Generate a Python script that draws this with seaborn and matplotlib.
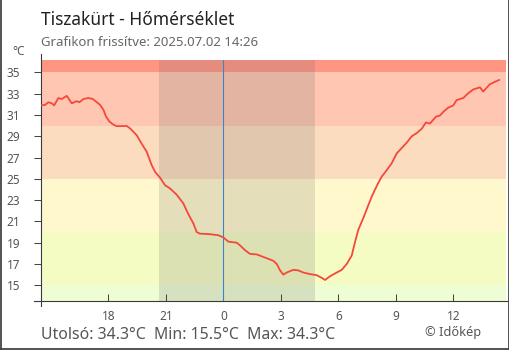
import matplotlib
matplotlib.use("Agg")
import matplotlib.pyplot as plt
import seaborn as sns
import pandas as pd
from matplotlib.lines import Line2D

# Hours relative to local midnight (negative = previous evening) and temperature in °C
hours = [-9.53, -9.30, -9.13, -8.95, -8.83, -8.61, -8.43, -8.17, -7.91, -7.65,
         -7.51, -7.30, -7.04, -6.81, -6.60, -6.43, -6.26, -6.12, -5.95, -5.74,
         -5.56, -5.04, -4.87, -4.52, -4.26, -4.00, -3.74, -3.56, -3.30, -3.04,
         -2.78, -2.43, -2.09, -1.83, -1.56, -1.39, -1.22, -0.69, -0.26, 0.00,
         0.26, 0.70, 0.87, 1.13, 1.39, 1.74, 2.18, 2.61, 2.79, 2.96,
         3.13, 3.31, 3.65, 3.91, 4.17, 4.52, 4.87, 5.13, 5.31, 5.57,
         5.92, 6.18, 6.44, 6.70, 6.87, 7.04, 7.30, 7.56, 7.76, 8.05,
         8.26, 8.52, 8.78, 9.05, 9.31, 9.57, 9.83, 10.09, 10.35, 10.57,
         10.78, 11.10, 11.30, 11.48, 11.74, 12.00, 12.17, 12.52, 12.78, 13.04,
         13.39, 13.56, 13.91, 14.40]
temps = [31.9, 31.95, 32.2, 32.1, 31.9, 32.6, 32.5, 32.8, 32.1, 32.3,
         32.2, 32.5, 32.6, 32.5, 32.2, 31.95, 31.5, 30.85, 30.4, 30.1,
         29.95, 29.97, 29.75, 29.1, 28.3, 27.55, 26.3, 25.65, 25.1, 24.4,
         24.1, 23.5, 22.7, 21.7, 20.8, 20.0, 19.85, 19.8, 19.7, 19.5,
         19.1, 19.0, 18.75, 18.3, 17.95, 17.9, 17.6, 17.3, 17.0, 16.4,
         16.0, 16.2, 16.45, 16.4, 16.2, 16.05, 15.95, 15.7, 15.5, 15.85,
         16.2, 16.45, 17.0, 17.8, 19.05, 20.2, 21.3, 22.5, 23.4, 24.5,
         25.2, 25.8, 26.45, 27.4, 27.9, 28.4, 29.0, 29.3, 29.7, 30.3,
         30.2, 30.85, 30.95, 31.3, 31.7, 31.9, 32.4, 32.6, 33.05, 33.4,
         33.6, 33.2, 33.9, 34.3]

tick_hours = [-6, -3, 0, 3, 6, 9, 12]
tick_labels = ["18", "21", "0", "3", "6", "9", "12"]
temp_ticks = [15, 17, 19, 21, 23, 25, 27, 29, 31, 33, 35]

x_range = (-9.53, 14.75)
y_range = (13.55, 36.17)

# Temperature zones (lower edge, upper edge, colour)
band_edges = [13.55, 15, 20, 25, 30, 35, 36.17]
band_colors = ["#eefdd3", "#f4fcc4", "#fff8cd", "#fcdcbf", "#ffc6b1", "#ff9583"]

# Sunset 20:38, sunrise 04:47
night_start, night_end = -3.37, 4.79

station = "Tiszakürt"
updated = "2025.07.02 14:26"
last_t, min_t, max_t = 34.3, 15.5, 34.3

sns.set_style("white")
plt.rcParams["font.family"] = ["Noto Sans", "DejaVu Sans"]

df = pd.DataFrame({"hour": hours, "temp": temps})

fig = plt.figure(figsize=(5.1, 3.5), dpi=100)
ax = fig.add_axes([40.7 / 510, 1 - 300.7 / 350, (506 - 40.7) / 510, (300.7 - 60) / 350])

for lo, hi, col in zip(band_edges[:-1], band_edges[1:], band_colors):
    ax.axhspan(lo, hi, color=col, lw=0, zorder=0)

ax.axvspan(night_start, night_end, color="#606060", alpha=0.17, lw=0, zorder=1)
ax.axvline(0, color="#3d85c6", lw=0.8, zorder=2)

sns.lineplot(data=df, x="hour", y="temp", color="#f5483b", linewidth=1.3, ax=ax, zorder=3)

ax.set_xlim(*x_range)
ax.set_ylim(*y_range)
ax.set_xlabel("")
ax.set_ylabel("")
ax.set_yticks(temp_ticks)
ax.set_xticks(tick_hours, tick_labels)

ax.tick_params(axis="y", direction="out", length=4.7, width=0.75, color="#444444",
               pad=10, labelsize=8.5, labelcolor="#555555", left=True)
ax.tick_params(axis="x", direction="in", length=4.8, width=0.75, color="#444444",
               pad=6.5, labelsize=8.5, labelcolor="#555555", bottom=True)

for side in ("top", "right"):
    ax.spines[side].set_visible(False)
for side in ("left", "bottom"):
    ax.spines[side].set_visible(True)
    ax.spines[side].set_color("#3a3a3a")
    ax.spines[side].set_linewidth(0.8)
ax.spines["left"].set_bounds(y_range[0] - 0.5, y_range[1] + 0.6)
ax.spines["bottom"].set_bounds(x_range[0] - 0.33, x_range[1] + 0.14)

fig.text(40.7 / 510, 1 - 25 / 350, f"{station} - Hőmérséklet", fontsize=12.5,
         color="#222222", va="baseline", ha="left")
fig.text(40.7 / 510, 1 - 46 / 350, f"Grafikon frissítve: {updated}", fontsize=9.5,
         color="#666666", va="baseline", ha="left")
fig.text(12.7 / 510, 1 - 55 / 350, "°C", fontsize=8.5, color="#555555",
         va="baseline", ha="left")
fig.text(40.7 / 510, 1 - 339.3 / 350,
         f"Utolsó: {last_t:.1f}°C  Min: {min_t:.1f}°C  Max: {max_t:.1f}°C",
         fontsize=11.4, color="#555555", va="baseline", ha="left")
fig.text(425 / 510, 1 - 336 / 350, "© Időkép", fontsize=9.2, color="#555555",
         va="baseline", ha="left")

# Outer frame (left, right, bottom)
frame = dict(transform=fig.transFigure, color="#444444", lw=1.3)
fig.add_artist(Line2D([0.5 / 510, 0.5 / 510], [0, 1], **frame))
fig.add_artist(Line2D([508.8 / 510, 508.8 / 510], [0, 1], **frame))
fig.add_artist(Line2D([0, 1], [1.5 / 350, 1.5 / 350], **frame))

fig.savefig("out.png", dpi=100)
